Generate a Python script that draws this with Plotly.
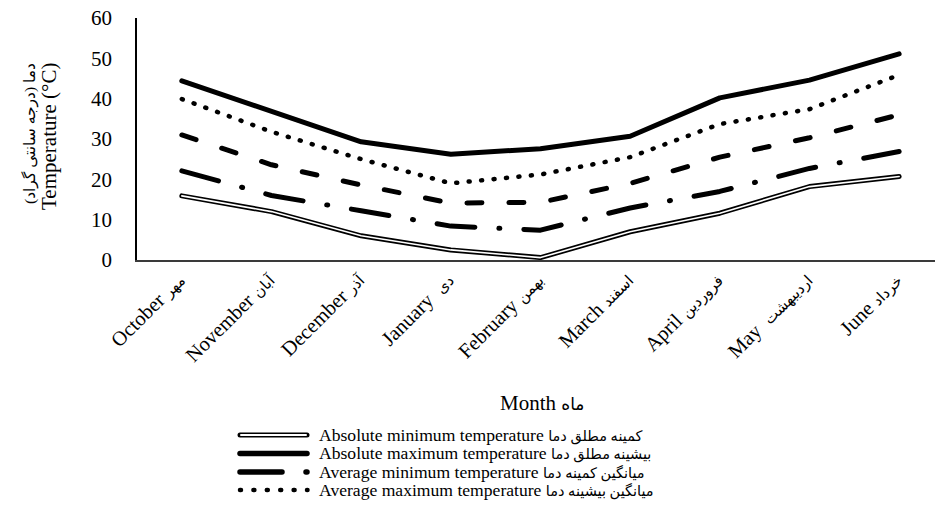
import plotly.graph_objects as go

# ---------------- data ----------------
months_en = ["October", "November", "December", "January ", "February",
             "March", "April", "May ", "June"]
months_fa = ["مهر", "آبان", "آذر", "دی", "بهمن", "اسفند", "فروردین", "اردیبهشت", "خرداد"]
abs_max = [44.4, 36.8, 29.3, 26.2, 27.6, 30.7, 40.2, 44.6, 51.1]
avg_max = [39.9, 31.8, 25.0, 19.0, 21.2, 25.5, 33.7, 37.4, 45.9]
avg_mean = [31.0, 23.6, 18.6, 14.1, 14.3, 19.0, 25.5, 30.3, 36.0]
avg_min = [22.1, 16.0, 12.2, 8.4, 7.4, 12.9, 17.0, 22.7, 26.9]
abs_min = [15.9, 12.0, 6.0, 2.5, 0.6, 7.0, 11.6, 18.2, 20.7]

legend_en = ["Absolute minimum temperature", "Absolute maximum temperature",
             "Average minimum temperature", "Average maximum temperature"]
legend_fa = ["کمینه مطلق دما", "بیشینه مطلق دما", "میانگین کمینه دما", "میانگین بیشینه دما"]
y_ticks = [0, 10, 20, 30, 40, 50, 60]

FONT = "Liberation Serif, Times New Roman, DejaVu Sans, serif"
W, H = 935, 513
L, R, T, B = 137, 0, 18, 253

def fa(s, size):
    return '<span style="font-size:%gpx">%s</span>' % (size, s)

months = [e + " " + fa(f, 15) for e, f in zip(months_en, months_fa)]
cats = list(range(len(months)))

fig = go.Figure()
fig.add_trace(go.Scatter(x=cats, y=abs_min, mode="lines", line=dict(color="black", width=5), showlegend=False))
fig.add_trace(go.Scatter(x=cats, y=abs_min, mode="lines", line=dict(color="white", width=1.6), showlegend=False))
fig.add_trace(go.Scatter(x=cats, y=avg_min, mode="lines",
                         line=dict(color="black", width=5, dash="38px,24px,1px,24px"), showlegend=False))
fig.add_trace(go.Scatter(x=cats, y=avg_mean, mode="lines",
                         line=dict(color="black", width=5, dash="15px,27px"), showlegend=False))
fig.add_trace(go.Scatter(x=cats, y=avg_max, mode="lines",
                         line=dict(color="black", width=4.5, dash="1px,11.5px"), showlegend=False))
fig.add_trace(go.Scatter(x=cats, y=abs_max, mode="lines", line=dict(color="black", width=5), showlegend=False))

pw = W - L - R
ph = H - T - B
def px(xp):
    return (xp - L) / pw
def py(yp):
    return (H - B - yp) / ph

# custom legend
rows = [435, 453.5, 472, 490]
shapes = []
x0, x1 = px(240), px(307)
shapes.append(dict(type="line", xref="paper", yref="paper", x0=x0, x1=x1, y0=py(rows[0]), y1=py(rows[0]),
                   line=dict(color="black", width=5)))
shapes.append(dict(type="line", xref="paper", yref="paper", x0=px(241), x1=px(306), y0=py(rows[0]), y1=py(rows[0]),
                   line=dict(color="white", width=2)))
shapes.append(dict(type="line", xref="paper", yref="paper", x0=x0, x1=x1, y0=py(rows[1]), y1=py(rows[1]),
                   line=dict(color="black", width=5.5)))
shapes.append(dict(type="line", xref="paper", yref="paper", x0=x0, x1=px(307.5), y0=py(rows[2]), y1=py(rows[2]),
                   line=dict(color="black", width=5.5, dash="42px,24px,1px,30px")))
shapes.append(dict(type="line", xref="paper", yref="paper", x0=x0, x1=px(307.5), y0=py(rows[3]), y1=py(rows[3]),
                   line=dict(color="black", width=4.5, dash="1px,12.4px")))

annotations = []
for en, f, r in zip(legend_en, legend_fa, rows):
    annotations.append(dict(text=en + " " + fa(f, 14.5), xref="paper", yref="paper", x=px(317), y=py(r),
                            xanchor="left", yanchor="middle", showarrow=False,
                            font=dict(family=FONT, size=17.6, color="black")))
annotations.append(dict(text="Month " + fa("ماه", 17), xref="paper", yref="paper", x=px(542), y=py(403),
                        xanchor="center", yanchor="middle", showarrow=False,
                        font=dict(family=FONT, size=21, color="black")))
annotations.append(dict(text="دما (درجه سانتی گراد)", xref="paper", yref="paper", x=px(30), y=py(134),
                        xanchor="center", yanchor="middle", textangle=-90, showarrow=False,
                        font=dict(family=FONT, size=15.5, color="black")))
annotations.append(dict(text="Temperature (°C)", xref="paper", yref="paper", x=px(49), y=py(137),
                        xanchor="center", yanchor="middle", textangle=-90, showarrow=False,
                        font=dict(family=FONT, size=21, color="black")))

fig.update_layout(
    width=W, height=H,
    margin=dict(l=L, r=R, t=T, b=B, pad=0),
    paper_bgcolor="white", plot_bgcolor="white",
    font=dict(family=FONT, color="black"),
    shapes=shapes, annotations=annotations,
    xaxis=dict(range=[-0.5, 8.4], tickvals=cats, ticktext=months, showgrid=False, zeroline=False,
               showline=True, linecolor="#3a3a3a", linewidth=2, ticks="", tickangle=-45,
               tickfont=dict(family=FONT, size=20.5, color="black"),
               ticklabelshift=-3, ticklabelstandoff=-2),
    yaxis=dict(range=[0, 60], tickvals=y_ticks, showgrid=False, zeroline=False,
               showline=True, linecolor="black", linewidth=1.5, ticks="",
               tickfont=dict(family=FONT, size=21, color="black"), ticklabelstandoff=19),
)

post = """
document.body.style.margin='0';
var gd=document.getElementById('{plot_id}');
function fixcaps(){
  gd.querySelectorAll('.scatterlayer path.js-line, .shapelayer path').forEach(function(p){
    p.style.strokeLinecap='round'; p.style.strokeLinejoin='round';
  });
}
fixcaps();
gd.on('plotly_afterplot', fixcaps);
"""
fig.write_html("out.html", post_script=post, config={"displayModeBar": False})
